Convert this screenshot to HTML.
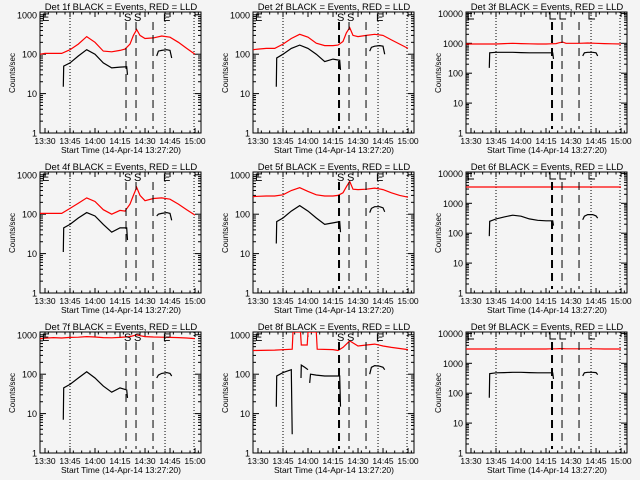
<!DOCTYPE html>
<html><head><meta charset="utf-8"><style>
html,body{margin:0;padding:0;background:#f4f4f4}
svg{display:block}
text{font-family:"Liberation Sans",sans-serif;fill:#000}
</style></head><body>
<svg id="c" width="640" height="480" viewBox="0 0 640 480"></svg>
<script>
// times in minutes after 13:30
const redT=[-3,0,5,10,15,20,25,30,35,40,45,48,51,53,55,57,60,65,70,75,80,85,90];
const blkT=[11,11.2,15,20,25,30,35,40,45,49,49.5];
const blk2T=[67,68,70,73,75,76];
const red1=[100,105,105,105,130,180,280,200,120,115,125,135,180,300,420,300,250,260,290,270,200,140,100];
const red2=[130,135,140,140,180,250,320,270,190,165,165,170,210,350,470,300,280,300,320,300,230,180,140];
const red3=[950,950,950,950,950,980,1000,980,960,950,950,960,980,1050,1100,1000,1000,1000,1020,1000,980,960,950];
const red4=[105,105,105,105,140,190,260,210,130,100,125,120,180,300,480,300,220,250,260,240,180,130,95];
const red5=[280,285,290,290,310,400,470,380,310,290,290,300,350,500,680,430,420,430,460,420,350,300,270];
const red6=[3500,3500,3500,3500,3500,3500,3500,3500,3500,3500,3500,3500,3500,3500,3500,3500,3500,3500,3500,3500,3500,3500,3500];
const red7=[800,820,850,830,860,870,900,880,850,840,860,880,900,950,1000,950,900,880,870,860,850,830,800];
const red9=[3000,3000,3000,3000,3000,3000,3000,3000,3000,3000,3000,3050,3050,3100,3100,3050,3050,3050,3050,3050,3000,3000,3000];
const red8T=[-3,10,20.5,21,25.5,26,29.5,30,35,35.5,45,48,51,55,60,65,70,75,80,90];
const red8=[400,410,430,2000,2000,550,550,2000,2000,430,420,400,480,700,520,550,580,520,480,420];
const blk1=[15,50,60,90,130,100,60,45,47,48,30];
const blk1b=[90,120,125,130,125,80];
const blk2=[15,80,100,140,170,140,100,65,75,70,40];
const blk2b=[120,150,160,165,160,100];
const blk3=[150,480,500,500,500,490,480,480,480,480,300];
const blk3b=[380,480,500,500,480,380];
const blk4=[11,45,55,80,110,90,55,35,45,45,22];
const blk4b=[90,100,105,110,105,70];
const blk5=[18,65,80,120,165,120,80,55,60,65,35];
const blk5b=[110,140,155,155,145,115];
const blk6=[80,250,300,350,400,370,300,270,260,260,180];
const blk6b=[280,370,420,420,380,320];
const blk7=[7,45,55,80,115,80,50,35,45,40,25];
const blk7b=[80,95,105,110,105,90];
const blk9=[70,450,480,490,500,500,490,480,480,480,300];
const blk9b=[380,480,500,500,490,420];
const blk8aT=[11,11.2,15,20,20.5];
const blk8a=[15,90,110,130,3];
const blk8bT=[25.8,26,28,30];
const blk8b=[80,170,150,130];
const blk8cT=[31,31.5,35,40,45,49,49.5];
const blk8c=[60,100,95,90,90,90,15];
const blk8d=[100,150,165,160,150,130];
const panels=[
 {n:1,dec:3,red:[[redT,red1]],blk:[[blkT,blk1],[blk2T,blk1b]],thick:false},
 {n:2,dec:3,red:[[redT,red2]],blk:[[blkT,blk2],[blk2T,blk2b]],thick:true},
 {n:3,dec:4,red:[[redT,red3]],blk:[[blkT,blk3],[blk2T,blk3b]],thick:true},
 {n:4,dec:3,red:[[redT,red4]],blk:[[blkT,blk4],[blk2T,blk4b]],thick:false},
 {n:5,dec:3,red:[[redT,red5]],blk:[[blkT,blk5],[blk2T,blk5b]],thick:true},
 {n:6,dec:4,red:[[redT,red6]],blk:[[blkT,blk6],[blk2T,blk6b]],thick:true},
 {n:7,dec:3,red:[[redT,red7]],blk:[[blkT,blk7],[blk2T,blk7b]],thick:false},
 {n:8,dec:3,red:[[red8T,red8]],blk:[[blk8aT,blk8a],[blk8bT,blk8b],[blk8cT,blk8c],[blk2T,blk8d]],thick:true},
 {n:9,dec:4,red:[[redT,red9]],blk:[[blkT,blk9],[blk2T,blk9b]],thick:true}
];
const xTickT=[0,15,30,45,60,75,90];
const xTickL=["13:30","13:45","14:00","14:15","14:30","14:45","15:00"];
const dashT=[48.6,54.6,64.8];
const dotT=[15,72,89.4];
const NS="http://www.w3.org/2000/svg";
const svg=document.getElementById('c');
function mk(tag,attrs,parent){const e=document.createElementNS(NS,tag);for(const k in attrs)e.setAttribute(k,attrs[k]);parent.appendChild(e);return e;}
panels.forEach((p,i)=>{
 const ox=(i%3)*213, oy=Math.floor(i/3)*160;
 const L=40,R=201,T=12,B=133;
 const g=mk('g',{transform:`translate(${ox},${oy})`},svg);
 
 
 const per=p.dec===3?39.4:29.9;
 const X=t=>45+t*1.667;
 const Y=v=>{let y=B-Math.log10(Math.max(v,1e-3))*per;return Math.max(T,Math.min(B,y));};
 const cp=mk('clipPath',{id:'cl'+p.n},g);mk('rect',{x:L,y:T,width:R-L,height:B-T},cp);
 const tt=mk('text',{x:121,y:10,'text-anchor':'middle','font-size':'9.5'},g);tt.textContent=`Det ${p.n}f BLACK = Events, RED = LLD`;
 
 const bx=mk('rect',{x:L,y:T,width:R-L,height:B-T,fill:'none',stroke:'#000','stroke-width':1},g);
 
 for(let d=0;d<=p.dec;d++){
  const y=B-d*per;
  mk('line',{x1:L,x2:L+6,y1:y,y2:y,stroke:'#000'},g);mk('line',{x1:R,x2:R-6,y1:y,y2:y,stroke:'#000'},g);
  const lb=mk('text',{x:37,y:y+3.5,'text-anchor':'end','font-size':'9'},g);lb.textContent=String(Math.pow(10,d));
  
  if(d<p.dec)for(let m=2;m<10;m++){const ym=y-Math.log10(m)*per;mk('line',{x1:L,x2:L+3,y1:ym,y2:ym,stroke:'#000'},g);mk('line',{x1:R,x2:R-3,y1:ym,y2:ym,stroke:'#000'},g);}
 }
 const yl=mk('text',{x:0,y:0,'text-anchor':'middle','font-size':'8',transform:'translate(15,73) rotate(-90)'},g);yl.textContent='Counts/sec';
 
 xTickT.forEach((t,k)=>{const x=X(t);
  mk('line',{x1:x,x2:x,y1:B,y2:B-5,stroke:'#000'},g);mk('line',{x1:x,x2:x,y1:T,y2:T+5,stroke:'#000'},g);
  const lb=mk('text',{x:x,y:144,'text-anchor':'middle','font-size':'8.5'},g);lb.textContent=xTickL[k];
  
 });
 for(let t=-3;t<=93;t+=5){if(t%15===0)continue;const x=X(t);if(x>L&&x<R){mk('line',{x1:x,x2:x,y1:B,y2:B-2.5,stroke:'#000'},g);mk('line',{x1:x,x2:x,y1:T,y2:T+2.5,stroke:'#000'},g);}}
 const xl=mk('text',{x:121,y:153,'text-anchor':'middle','font-size':'8.5'},g);xl.textContent='Start Time (14-Apr-14 13:27:20)';
 
 dotT.forEach(t=>{const l=mk('line',{x1:X(t),x2:X(t),y1:T,y2:B,stroke:'#000','stroke-dasharray':'1,2'},g);});
 p.red.forEach(s=>{const pts=s[0].map((t,k)=>X(t).toFixed(1)+','+Y(s[1][k]).toFixed(1)).join(' ');
  const pl=mk('polyline',{points:pts,fill:'none',stroke:'#ff0000','stroke-width':1.2,'clip-path':`url(#cl${p.n})`},g);
  });
 p.blk.forEach(s=>{const pts=s[0].map((t,k)=>X(t).toFixed(1)+','+Y(s[1][k]).toFixed(1)).join(' ');
  const pl=mk('polyline',{points:pts,fill:'none',stroke:'#000','stroke-width':1.2,'clip-path':`url(#cl${p.n})`},g);
  });
 dashT.forEach((t,k)=>{const l=mk('line',{x1:X(t),x2:X(t),y1:22,y2:B-4,stroke:'#000','stroke-width':(k===0&&p.thick)?2:1,'stroke-dasharray':'8,5'},g);});
 const marks=[['E',L+2],['S',X(dashT[0])-2],['S',X(dashT[1])-2],['E',X(72)-2]];
 if(p.dec===3){marks.forEach(m=>{const t=mk('text',{x:m[1],y:21,'font-size':'11'},g);t.textContent=m[0];});}
 else{marks.forEach(m=>{const x=m[1];const pl=mk('polyline',{points:`${x+7},${T} ${x},${T} ${x},${T+7} ${x+6},${T+7}`,fill:'none',stroke:'#000'},g);});}
});
</script>
</body></html>
